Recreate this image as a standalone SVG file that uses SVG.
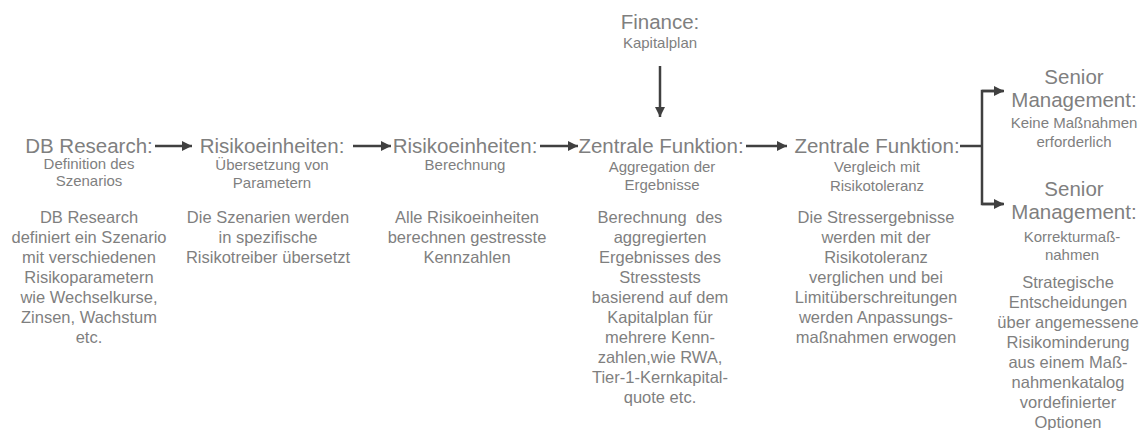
<svg xmlns="http://www.w3.org/2000/svg" width="1143" height="430" viewBox="0 0 1143 430">
<style>
text{font-family:"Liberation Sans",Arial,sans-serif;fill:#7f7f7f;text-anchor:middle}
.t{font-size:20.5px}
.s{font-size:15px}
.b{font-size:16.5px}
.c{stroke:#404040;stroke-width:2.5;fill:none}
</style>
<defs>
<marker id="ah" viewBox="0 0 10 10" refX="10" refY="5" markerWidth="4.4" markerHeight="4" orient="auto" markerUnits="strokeWidth">
<path d="M0,0 L10,5 L0,10 z" fill="#404040"/>
</marker>
</defs>
<rect width="1143" height="430" fill="#ffffff"/>
<g id="connectors">
<line class="c" x1="155" y1="146" x2="192" y2="146" marker-end="url(#ah)"/>
<line class="c" x1="353" y1="146" x2="391" y2="146" marker-end="url(#ah)"/>
<line class="c" x1="540" y1="146" x2="578" y2="146" marker-end="url(#ah)"/>
<line class="c" x1="746" y1="146" x2="787" y2="146" marker-end="url(#ah)"/>
<line class="c" x1="660" y1="66" x2="660" y2="117" marker-end="url(#ah)"/>
<polyline class="c" points="960,146 982,146"/>
<polyline class="c" points="1003,91 982,91 982,204 1003,204"/>
<line class="c" x1="982" y1="91" x2="1004" y2="91" marker-end="url(#ah)"/>
<line class="c" x1="982" y1="204" x2="1004" y2="204" marker-end="url(#ah)"/>
</g>
<g id="finance">
<text class="t" x="660" y="29">Finance:</text>
<text class="s" x="660" y="48">Kapitalplan</text>
</g>
<g id="node1">
<text class="t" x="89" y="153">DB Research:</text>
<text class="s" x="89" y="169">Definition des</text>
<text class="s" x="89" y="186">Szenarios</text>
<text class="b"><tspan x="89" y="223">DB Research</tspan><tspan x="89" y="243">definiert ein Szenario</tspan><tspan x="89" y="263">mit verschiedenen</tspan><tspan x="89" y="283">Risikoparametern</tspan><tspan x="89" y="303">wie Wechselkurse,</tspan><tspan x="89" y="323">Zinsen, Wachstum</tspan><tspan x="89" y="343">etc.</tspan></text>
</g>
<g id="node2">
<text class="t" x="272" y="153">Risikoeinheiten:</text>
<text class="s" x="272" y="170">Übersetzung von</text>
<text class="s" x="272" y="188">Parametern</text>
<text class="b"><tspan x="268" y="223">Die Szenarien werden</tspan><tspan x="268" y="243">in spezifische</tspan><tspan x="268" y="263">Risikotreiber übersetzt</tspan></text>
</g>
<g id="node3">
<text class="t" x="465" y="153">Risikoeinheiten:</text>
<text class="s" x="465" y="170">Berechnung</text>
<text class="b"><tspan x="467" y="223">Alle Risikoeinheiten</tspan><tspan x="467" y="243">berechnen gestresste</tspan><tspan x="467" y="263">Kennzahlen</tspan></text>
</g>
<g id="node4">
<text class="t" x="661" y="153">Zentrale Funktion:</text>
<text class="s" x="662" y="172">Aggregation der</text>
<text class="s" x="662" y="190">Ergebnisse</text>
<text class="b" style="white-space:pre"><tspan x="660" y="223">Berechnung  des</tspan><tspan x="660" y="243">aggregierten</tspan><tspan x="660" y="263">Ergebnisses des</tspan><tspan x="660" y="283">Stresstests</tspan><tspan x="660" y="303">basierend auf dem</tspan><tspan x="660" y="323">Kapitalplan für</tspan><tspan x="660" y="343">mehrere Kenn-</tspan><tspan x="660" y="363">zahlen,wie RWA,</tspan><tspan x="660" y="383">Tier-1-Kernkapital-</tspan><tspan x="660" y="403">quote etc.</tspan></text>
</g>
<g id="node5">
<text class="t" x="877" y="153">Zentrale Funktion:</text>
<text class="s" x="877" y="172">Vergleich mit</text>
<text class="s" x="877" y="191">Risikotoleranz</text>
<text class="b"><tspan x="876" y="223">Die Stressergebnisse</tspan><tspan x="876" y="243">werden mit der</tspan><tspan x="876" y="263">Risikotoleranz</tspan><tspan x="876" y="283">verglichen und bei</tspan><tspan x="876" y="303">Limitüberschreitungen</tspan><tspan x="876" y="323">werden Anpassungs-</tspan><tspan x="876" y="343">maßnahmen erwogen</tspan></text>
</g>
<g id="node6">
<text class="t"><tspan x="1074" y="84">Senior</tspan><tspan x="1074" y="107">Management:</tspan></text>
<text class="s" x="1074" y="128">Keine Maßnahmen</text>
<text class="s" x="1074" y="147">erforderlich</text>
</g>
<g id="node7">
<text class="t"><tspan x="1074" y="196">Senior</tspan><tspan x="1074" y="219">Management:</tspan></text>
<text class="s" x="1072" y="242">Korrekturmaß-</text>
<text class="s" x="1072" y="260">nahmen</text>
<text class="b"><tspan x="1068" y="288">Strategische</tspan><tspan x="1068" y="308">Entscheidungen</tspan><tspan x="1068" y="328">über angemessene</tspan><tspan x="1068" y="348">Risikominderung</tspan><tspan x="1068" y="368">aus einem Maß-</tspan><tspan x="1068" y="388">nahmenkatalog</tspan><tspan x="1068" y="408">vordefinierter</tspan><tspan x="1068" y="428">Optionen</tspan></text>
</g>
</svg>
